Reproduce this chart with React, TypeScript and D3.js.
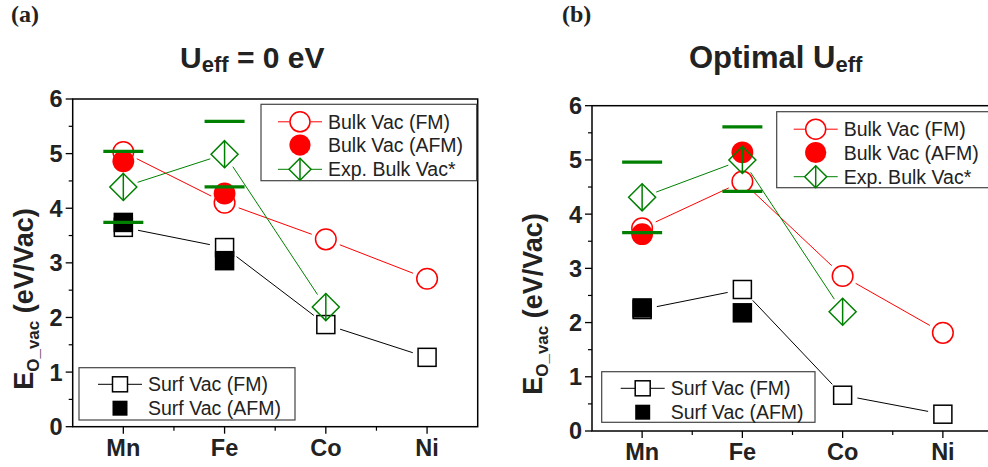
import React from "react";
import * as d3 from "d3";

// Transition metals along the x axis
const categories = ["Mn", "Fe", "Co", "Ni"];
const yTicks = [0, 1, 2, 3, 4, 5, 6];

// Panel (a): U_eff = 0 eV
const bulkFmA = [5.03, 4.1, 3.43, 2.71];
const bulkAfmA = [4.86, 4.27];
const expBulkA = [4.39, 4.99, 2.19];
const surfFmA = [3.65, 3.28, 1.87, 1.27];
const surfAfmA = [3.74, 3.04];
const expRangeMnA = [5.04, 3.74];
const expRangeFeA = [5.59, 4.39];

// Panel (b): optimal U_eff
const bulkFmB = [3.74, 4.6, 2.86, 1.81];
const bulkAfmB = [3.63, 5.14];
const expBulkB = [4.31, 5.0, 2.2];
const surfFmB = [2.24, 2.61, 0.66, 0.31];
const surfAfmB = [2.27, 2.18];
const expRangeMnB = [4.96, 3.66];
const expRangeFeB = [5.61, 4.42];

const RED = "#ff0000";
const GREEN = "#008000";
const BLACK = "#000000";
const TEXT = "#222222";
const SANS = "'Liberation Sans', Arial, Helvetica, sans-serif";

type Pt = [number, number];

function gappedSegments(pts: Pt[], gap: number) {
  const segs: [Pt, Pt][] = [];
  for (let i = 0; i < pts.length - 1; i++) {
    const [x1, y1] = pts[i];
    const [x2, y2] = pts[i + 1];
    const len = Math.hypot(x2 - x1, y2 - y1);
    const ux = (x2 - x1) / len;
    const uy = (y2 - y1) / len;
    segs.push([
      [x1 + ux * gap, y1 + uy * gap],
      [x2 - ux * gap, y2 - uy * gap],
    ]);
  }
  return segs;
}

function Circle({ x, y, r, filled }: { x: number; y: number; r: number; filled?: boolean }) {
  return filled ? (
    <circle cx={x} cy={y} r={r + 0.6} fill={RED} />
  ) : (
    <circle cx={x} cy={y} r={r} fill="none" stroke={RED} strokeWidth={1.5} />
  );
}

function Square({ x, y, s, filled }: { x: number; y: number; s: number; filled?: boolean }) {
  return filled ? (
    <rect x={x - s / 2} y={y - s / 2} width={s} height={s} fill={BLACK} />
  ) : (
    <rect x={x - s / 2 + 0.75} y={y - s / 2 + 0.75} width={s - 1.5} height={s - 1.5} fill="none" stroke={BLACK} strokeWidth={1.5} />
  );
}

function Diamond({ x, y, h }: { x: number; y: number; h: number }) {
  const p = `M${x},${y - h} L${x + h},${y} L${x},${y + h} L${x - h},${y} Z`;
  return (
    <g fill="none" stroke={GREEN} strokeWidth={1.5}>
      <path d={p} />
      <line x1={x} y1={y - h} x2={x} y2={y + h} />
    </g>
  );
}

type Box = { x: number; y: number; w: number; h: number };

type PanelProps = {
  x0: number;
  x1: number;
  yTop: number;
  yBottom: number;
  bulkFm: number[];
  bulkAfm: number[];
  expBulk: number[];
  surfFm: number[];
  surfAfm: number[];
  rangeMn: number[];
  rangeFe: number[];
  topLegend: Box;
  bottomLegend: Box;
};

function Panel(p: PanelProps) {
  const { bulkFm, bulkAfm, expBulk, surfFm, surfAfm } = p;
  const x = d3.scaleLinear().domain([0.5, 4.5]).range([p.x0, p.x1]);
  const y = d3.scaleLinear().domain([0, 6]).range([p.yBottom, p.yTop]);
  const xi = (i: number) => x(i + 1);

  const line = (vals: number[], color: string) =>
    gappedSegments(vals.map((v, i) => [xi(i), y(v)] as Pt), 15).map((s, k) => (
      <line key={k} x1={s[0][0]} y1={s[0][1]} x2={s[1][0]} y2={s[1][1]} stroke={color} strokeWidth={1} />
    ));

  const minorY = d3.range(0.5, 6, 1);
  const minorX = [1.5, 2.5, 3.5];

  const tl = p.topLegend;
  const bl = p.bottomLegend;
  const tRow = [tl.y + 17.5, tl.y + 40.8, tl.y + 65];
  const tMark = tl.x + 39;
  const bRow = [bl.y + 16.6, bl.y + 40.5];
  const bMark = bl.x + 41;

  const dash = (i: number, v: number, k: string) => (
    <line key={k} x1={xi(i) - 20} x2={xi(i) + 20} y1={y(v)} y2={y(v)} stroke={GREEN} strokeWidth={3.2} />
  );

  return (
    <g>
      {/* frame */}
      <rect x={p.x0} y={p.yTop} width={p.x1 - p.x0} height={p.yBottom - p.yTop} fill="none" stroke={BLACK} strokeWidth={1.5} />
      {/* y ticks */}
      {yTicks.map((t) => (
        <g key={"yt" + t}>
          <line x1={p.x0 - 7} x2={p.x0} y1={y(t)} y2={y(t)} stroke={BLACK} strokeWidth={1.3} />
          <text x={p.x0 - 10} y={y(t)} dy="0.36em" textAnchor="end" fontFamily={SANS} fontWeight="bold" fontSize={23.5} fill={TEXT}>
            {t}
          </text>
        </g>
      ))}
      {minorY.map((t) => (
        <line key={"ym" + t} x1={p.x0 - 4} x2={p.x0} y1={y(t)} y2={y(t)} stroke={BLACK} strokeWidth={1.2} />
      ))}
      {/* x ticks */}
      {categories.map((c, i) => (
        <g key={"xt" + c}>
          <line x1={xi(i)} x2={xi(i)} y1={p.yBottom} y2={p.yBottom + 7} stroke={BLACK} strokeWidth={1.3} />
          <text x={xi(i)} y={p.yBottom + 29} textAnchor="middle" fontFamily={SANS} fontWeight="bold" fontSize={23.5} fill={TEXT}>
            {c}
          </text>
        </g>
      ))}
      {minorX.map((t) => (
        <line key={"xm" + t} x1={x(t)} x2={x(t)} y1={p.yBottom} y2={p.yBottom + 4} stroke={BLACK} strokeWidth={1.2} />
      ))}

      {/* connecting lines */}
      {line(surfFm, BLACK)}
      {line(bulkFm, RED)}
      {line(expBulk, GREEN)}

      {/* markers */}
      {surfFm.map((v, i) => <Square key={"sf" + i} x={xi(i)} y={y(v)} s={19.5} />)}
      {surfAfm.map((v, i) => <Square key={"sa" + i} x={xi(i)} y={y(v)} s={19.5} filled />)}
      {bulkFm.map((v, i) => <Circle key={"bf" + i} x={xi(i)} y={y(v)} r={10.3} />)}
      {bulkAfm.map((v, i) => <Circle key={"ba" + i} x={xi(i)} y={y(v)} r={10.3} filled />)}
      {expBulk.map((v, i) => <Diamond key={"eb" + i} x={xi(i)} y={y(v)} h={13.5} />)}

      {/* experimental ranges */}
      {p.rangeMn.map((v, k) => dash(0, v, "rm" + k))}
      {p.rangeFe.map((v, k) => dash(1, v, "rf" + k))}

      {/* upper legend */}
      <rect x={tl.x} y={tl.y} width={tl.w} height={tl.h} fill="white" stroke="#444" strokeWidth={1.2} />
      <line x1={tMark - 22} x2={tMark - 10.3} y1={tRow[0]} y2={tRow[0]} stroke={RED} strokeWidth={1} />
      <line x1={tMark + 10.3} x2={tMark + 22} y1={tRow[0]} y2={tRow[0]} stroke={RED} strokeWidth={1} />
      <Circle x={tMark} y={tRow[0]} r={10} />
      <Circle x={tMark} y={tRow[1]} r={10} filled />
      <line x1={tMark - 22} x2={tMark - 11} y1={tRow[2]} y2={tRow[2]} stroke={GREEN} strokeWidth={1} />
      <line x1={tMark + 11} x2={tMark + 22} y1={tRow[2]} y2={tRow[2]} stroke={GREEN} strokeWidth={1} />
      <Diamond x={tMark} y={tRow[2]} h={11} />
      {["Bulk Vac (FM)", "Bulk Vac (AFM)", "Exp. Bulk Vac*"].map((t, k) => (
        <text key={"tl" + k} x={tMark + 28} y={tRow[k]} dy="0.36em" fontFamily={SANS} fontSize={19.5} fill={TEXT}>
          {t}
        </text>
      ))}

      {/* lower legend */}
      <rect x={bl.x} y={bl.y} width={bl.w} height={bl.h} fill="white" stroke="#444" strokeWidth={1.2} />
      <line x1={bMark - 22} x2={bMark + 22} y1={bRow[0]} y2={bRow[0]} stroke={BLACK} strokeWidth={1} />
      <rect x={bMark - 7.5} y={bRow[0] - 7.5} width={15} height={15} fill="white" stroke={BLACK} strokeWidth={1.5} />
      <rect x={bMark - 7.5} y={bRow[1] - 7.5} width={15} height={15} fill={BLACK} />
      {["Surf Vac (FM)", "Surf Vac (AFM)"].map((t, k) => (
        <text key={"bl" + k} x={bMark + 28} y={bRow[k]} dy="0.36em" fontFamily={SANS} fontSize={19.5} fill={TEXT}>
          {t}
        </text>
      ))}
    </g>
  );
}

function YTitle({ x, y }: { x: number; y: number }) {
  return (
    <text transform={`translate(${x},${y}) rotate(-90)`} textAnchor="middle" fontFamily={SANS} fontWeight="bold" fontSize={27} fill={TEXT}>
      E
      <tspan fontSize={17} dy={6}>O_vac</tspan>
      <tspan dy={-6}> (eV/Vac)</tspan>
    </text>
  );
}

export default function App() {
  return (
    <svg width={988} height={467} style={{ position: "absolute", left: 0, top: 0, background: "white" }}>
      {/* panel labels */}
      <text x={11} y={22} fontFamily="'Liberation Serif', 'Times New Roman', serif" fontWeight="bold" fontSize={24} fill={TEXT}>(a)</text>
      <text x={562} y={22} fontFamily="'Liberation Serif', 'Times New Roman', serif" fontWeight="bold" fontSize={24} fill={TEXT}>(b)</text>

      {/* titles */}
      <text x={180} y={68} fontFamily={SANS} fontWeight="bold" fontSize={30} fill={TEXT}>
        U<tspan fontSize={22} dy={4}>eff</tspan>
        <tspan dy={-4}> = 0 eV</tspan>
      </text>
      <text x={689} y={68} fontFamily={SANS} fontWeight="bold" fontSize={31} fill={TEXT}>
        Optimal U<tspan fontSize={22} dy={4}>eff</tspan>
      </text>

      <YTitle x={33} y={299} />
      <YTitle x={542} y={304} />

      <Panel
        x0={72.7}
        x1={477.7}
        yTop={99}
        yBottom={426.7}
        bulkFm={bulkFmA}
        bulkAfm={bulkAfmA}
        expBulk={expBulkA}
        surfFm={surfFmA}
        surfAfm={surfAfmA}
        rangeMn={expRangeMnA}
        rangeFe={expRangeFeA}
        topLegend={{ x: 261, y: 104.3, w: 215.7, h: 76.4 }}
        bottomLegend={{ x: 79, y: 367.7, w: 216, h: 52.3 }}
      />
      <Panel
        x0={592}
        x1={993}
        yTop={105.7}
        yBottom={431}
        bulkFm={bulkFmB}
        bulkAfm={bulkAfmB}
        expBulk={expBulkB}
        surfFm={surfFmB}
        surfAfm={surfAfmB}
        rangeMn={expRangeMnB}
        rangeFe={expRangeFeB}
        topLegend={{ x: 776.7, y: 111.7, w: 220, h: 76 }}
        bottomLegend={{ x: 601.7, y: 371.7, w: 213.3, h: 50.6 }}
      />
    </svg>
  );
}
